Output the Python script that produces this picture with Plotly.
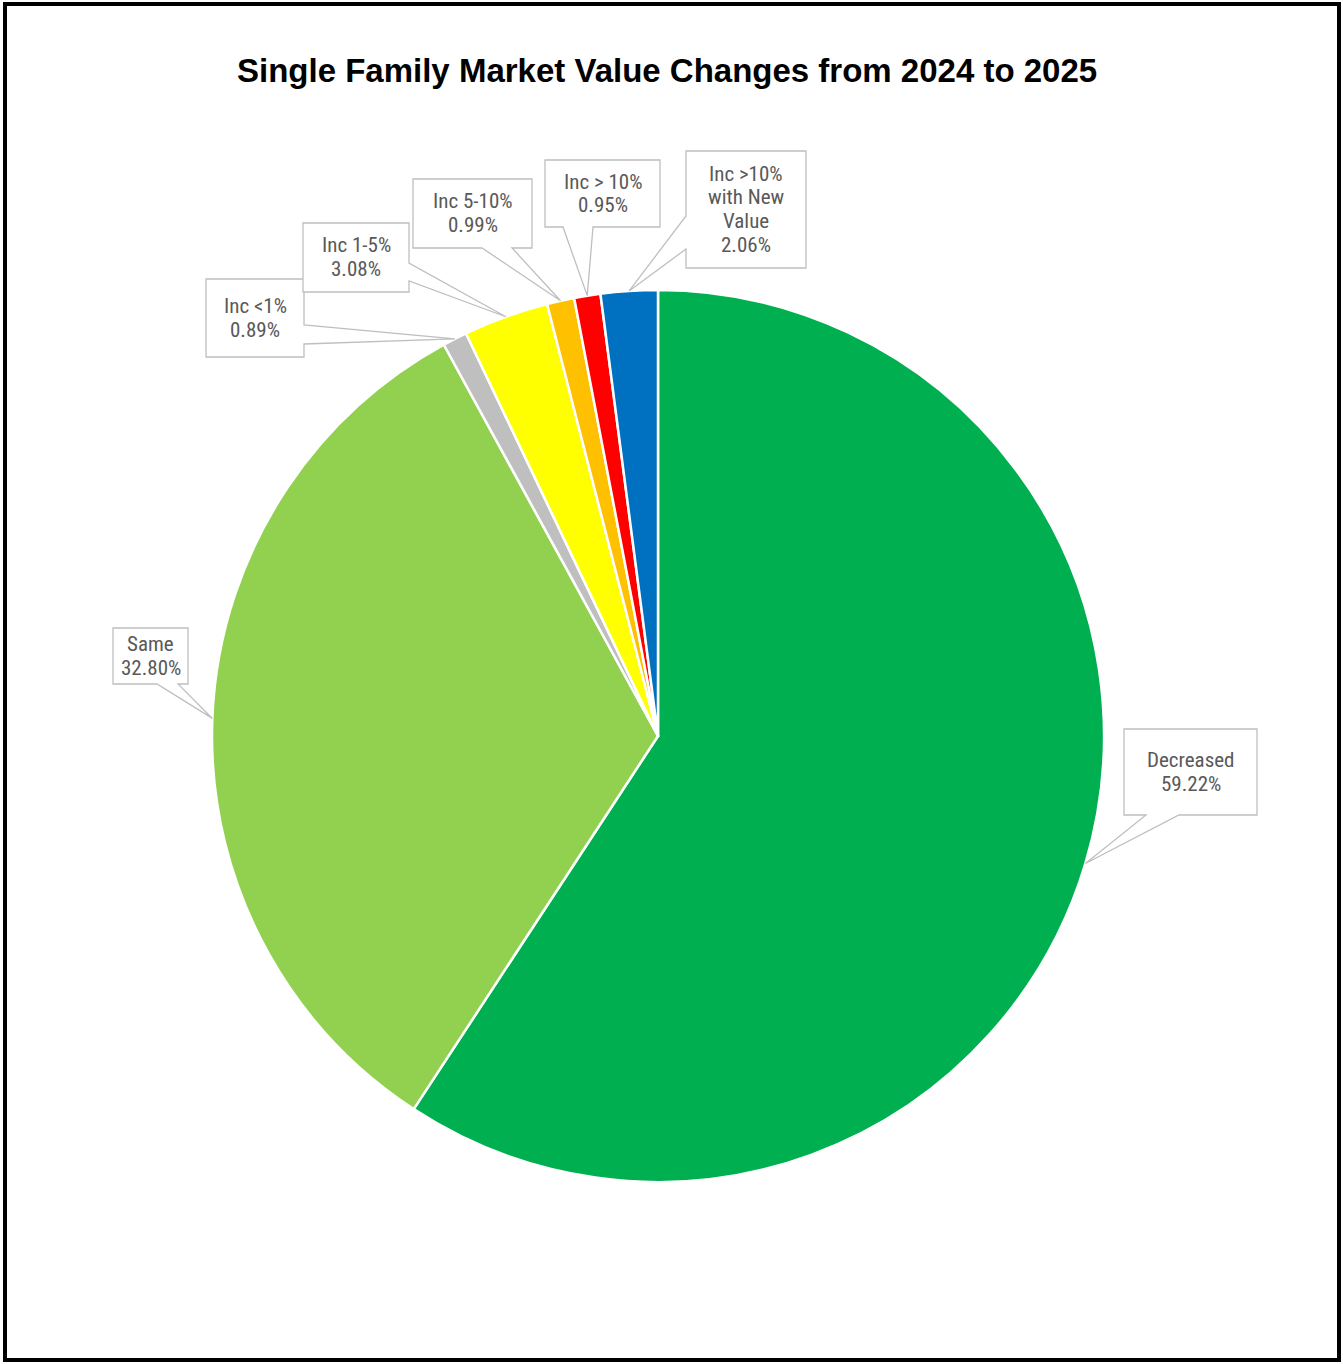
import math
import plotly.graph_objects as go

# ---- data ----
categories = ["Decreased", "Same", "Inc <1%", "Inc 1-5%", "Inc 5-10%", "Inc > 10%", "Inc >10% with New Value"]
label_lines = [["Decreased"], ["Same"], ["Inc <1%"], ["Inc 1-5%"], ["Inc 5-10%"], ["Inc > 10%"],
               ["Inc >10%", "with New", "Value"]]
percents = [59.22, 32.80, 0.89, 3.08, 0.99, 0.95, 2.06]
colors = ["#00B050", "#92D050", "#BFBFBF", "#FFFF00", "#FFC000", "#FF0000", "#0070C0"]

# ---- layout constants (pixels) ----
W, H = 1343, 1364
CX, CY, R = 658, 736, 446
LINE_STEP = 24

# callout boxes: (x0, y0, x1, y1), side of wedge, wedge base (two coords along that side)
callouts = [
    ((1124, 729, 1257, 815), "bottom", (1146, 1179)),
    ((113, 628, 188, 684), "bottom", (157, 178)),
    ((206, 279, 304, 357), "right", (325, 344)),
    ((303, 223, 409, 292), "right", (263, 281)),
    ((413, 179, 532, 248), "bottom", (482, 512)),
    ((545, 160, 660, 227), "bottom", (563, 593)),
    ((686, 151, 806, 268), "left", (216, 249)),
]

LABEL_FONT = dict(family="Liberation Sans Narrow, Arial Narrow, Roboto Condensed, Liberation Sans",
                  size=21, color="#595959")


def px(x):
    return x / W


def py(y):
    return 1 - y / H


fig = go.Figure()
fig.add_trace(go.Pie(
    labels=categories,
    values=percents,
    marker=dict(colors=colors, line=dict(color="white", width=2.5)),
    sort=False,
    direction="clockwise",
    rotation=0,
    textinfo="none",
    hoverinfo="label+percent",
    showlegend=False,
    domain=dict(x=[px(CX - R), px(CX + R)], y=[py(CY + R), py(CY - R)]),
))

total = sum(percents)
shapes = []
annotations = []
cum = 0.0
for i, v in enumerate(percents):
    mid = (cum + v / 2) / total * 2 * math.pi
    cum += v
    tx = CX + R * math.sin(mid)
    ty = CY - R * math.cos(mid)
    (x0, y0, x1, y1), side, (b1, b2) = callouts[i]
    if side == "bottom":
        pts = [(x0, y0), (x1, y0), (x1, y1), (b2, y1), (tx, ty), (b1, y1), (x0, y1)]
    elif side == "right":
        pts = [(x0, y0), (x1, y0), (x1, b1), (tx, ty), (x1, b2), (x1, y1), (x0, y1)]
    else:  # left
        pts = [(x0, y0), (x1, y0), (x1, y1), (x0, y1), (x0, b2), (tx, ty), (x0, b1)]
    path = "M " + " L ".join(f"{px(a):.5f},{py(b):.5f}" for a, b in pts) + " Z"
    shapes.append(dict(type="path", xref="paper", yref="paper", path=path,
                       line=dict(color="#BFBFBF", width=1.3), fillcolor="white", layer="above"))
    lines = label_lines[i] + [f"{v:.2f}%"]
    n = len(lines)
    cyb = (y0 + y1) / 2
    for k, t in enumerate(lines):
        ly = cyb + (k - (n - 1) / 2) * LINE_STEP
        annotations.append(dict(
            x=px((x0 + x1) / 2), y=py(ly), xref="paper", yref="paper",
            text=t, showarrow=False, xanchor="center", yanchor="middle",
            font=LABEL_FONT,
        ))

# outer border
shapes.append(dict(type="rect", xref="paper", yref="paper",
                   x0=px(5), x1=px(1339), y0=py(1360), y1=py(4),
                   line=dict(color="black", width=4), fillcolor="rgba(0,0,0,0)", layer="above"))

annotations.append(dict(
    x=px(667), y=py(71), xref="paper", yref="paper", showarrow=False,
    text="<b>Single Family Market Value Changes from 2024 to 2025</b>",
    xanchor="center", yanchor="middle",
    font=dict(family="Liberation Sans, Arial", size=33, color="black"),
))

fig.update_layout(
    width=W, height=H,
    margin=dict(l=0, r=0, t=0, b=0),
    paper_bgcolor="white",
    plot_bgcolor="white",
    shapes=shapes,
    annotations=annotations,
)

fig.write_html("out.html")
